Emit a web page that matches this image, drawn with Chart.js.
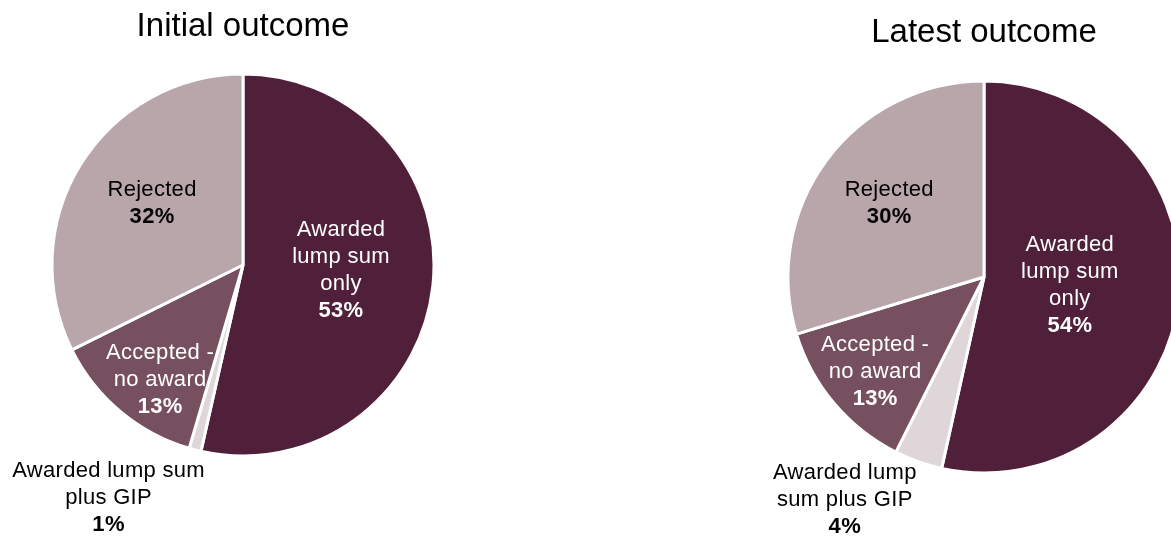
<!DOCTYPE html>
<html lang="en">

<head>
    <meta charset="UTF-8">
    <title>Initial and latest outcome</title>
    <script src="https://cdn.jsdelivr.net/npm/chart.js"></script>
    <style>
        html, body { margin: 0; padding: 0; background: #fff; overflow: hidden; width: 1171px; height: 539px; }
        canvas { position: absolute; top: 0; }
        #initialChart { left: 0; }
        #latestChart { left: 585px; }
    </style>
</head>

<body>
    <canvas id="initialChart" width="585" height="539"></canvas>
    <canvas id="latestChart" width="640" height="539"></canvas>

    <script>
        // categories, clockwise from 12 o'clock
        const categories = ['Awarded lump sum only', 'Awarded lump sum plus GIP', 'Accepted - no award', 'Rejected'];
        const initialValues = [53, 1, 13, 32];
        const latestValues = [54, 4, 13, 30];

        // how each label wraps in the picture
        const initialLabelLines = [['Awarded', 'lump sum', 'only'], ['Awarded lump sum', 'plus GIP'], ['Accepted -', 'no award'], ['Rejected']];
        const latestLabelLines = [['Awarded', 'lump sum', 'only'], ['Awarded lump', 'sum plus GIP'], ['Accepted -', 'no award'], ['Rejected']];

        const sliceColors = ['#50203A', '#DED6D8', '#76505F', '#B9A6AB'];
        const labelColors = ['#ffffff', '#000000', '#ffffff', '#000000'];
        const FONT = '"Liberation Sans", Arial, sans-serif';

        // label placement: [fraction of radius, angle shift in degrees]
        const initialPlacement = [[0.514, -3], [1.41, 15.4], [0.742, -4.2], [0.575, 2.3]];
        const latestPlacement = [[0.44, -0.9], [1.34, 12.4], [0.736, -0.9], [0.612, 1.3]];

        const sliceLabels = {
            id: 'sliceLabels',
            afterDatasetsDraw(chart, args, opts) {
                const ctx = chart.ctx;
                const meta = chart.getDatasetMeta(0);
                const values = chart.data.datasets[0].data;
                ctx.save();
                ctx.textAlign = 'center';
                ctx.textBaseline = 'middle';
                meta.data.forEach((arc, i) => {
                    const { x, y, startAngle, endAngle, outerRadius } = arc.getProps(['x', 'y', 'startAngle', 'endAngle', 'outerRadius'], true);
                    const [k, shift] = opts.placement[i];
                    const a = (startAngle + endAngle) / 2 + shift * Math.PI / 180;
                    const px = x + Math.cos(a) * k * outerRadius;
                    const py = y + Math.sin(a) * k * outerRadius;
                    const lines = opts.lines[i].concat([values[i] + '%']);
                    const lh = 27;
                    const top = py - (lines.length - 1) * lh / 2;
                    ctx.fillStyle = labelColors[i];
                    lines.forEach((t, j) => {
                        const isPct = j === lines.length - 1;
                        ctx.font = (isPct ? 'bold ' : '') + '22px ' + FONT;
                        ctx.letterSpacing = '0.3px';
                        ctx.fillText(t, px, top + j * lh);
                    });
                });
                // chart heading
                ctx.letterSpacing = '0px';
                ctx.fillStyle = '#000';
                ctx.font = '33px ' + FONT;
                ctx.textBaseline = 'alphabetic';
                ctx.fillText(opts.title, chart.chartArea.left + chart.chartArea.width / 2, opts.titleY);
                ctx.restore();
            }
        };

        function makePie(id, values, lines, placement, title, titleY, radius, padding) {
            return new Chart(document.getElementById(id), {
                type: 'pie',
                data: {
                    labels: categories,
                    datasets: [{
                        data: values,
                        backgroundColor: sliceColors,
                        borderColor: '#ffffff',
                        borderWidth: 3,
                        radius: radius
                    }]
                },
                options: {
                    responsive: false,
                    animation: false,
                    layout: { padding: padding },
                    plugins: {
                        legend: { display: false },
                        tooltip: { enabled: false },
                        title: { display: false },
                        sliceLabels: { lines: lines, placement: placement, title: title, titleY: titleY }
                    }
                },
                plugins: [sliceLabels]
            });
        }

        makePie('initialChart', initialValues, initialLabelLines, initialPlacement, 'Initial outcome', 36, 191,
            { left: 52, right: 151, top: 74, bottom: 83 });
        makePie('latestChart', latestValues, latestLabelLines, latestPlacement, 'Latest outcome', 42, 196,
            { left: 203, right: 45, top: 81, bottom: 66 });
    </script>
</body>

</html>
